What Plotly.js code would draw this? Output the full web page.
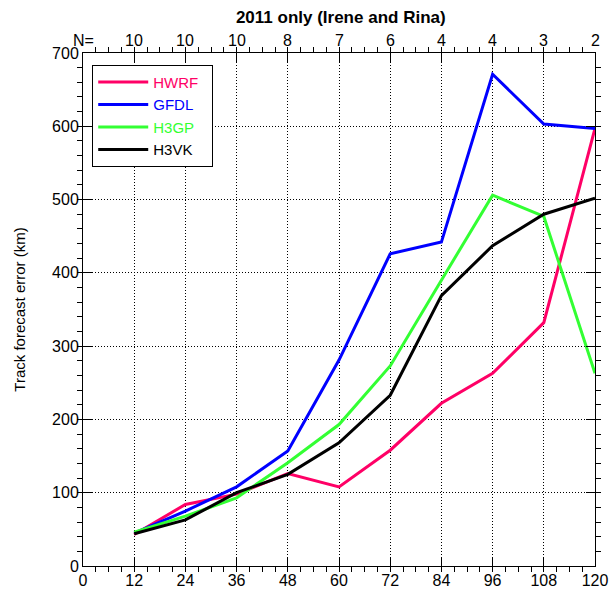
<!DOCTYPE html>
<html><head><meta charset="utf-8">
<script src="https://cdn.plot.ly/plotly-3.0.1.min.js"></script>
<style>body{margin:0;padding:0;background:#fff}#chart{width:614px;height:594px}</style>
</head><body><div id="chart"></div>
<script>
const leadTimes = [12, 24, 36, 48, 60, 72, 84, 96, 108, 120];
const hwrf = [43, 84, 98, 126, 108, 158, 222, 263, 332, 597];
const gfdl = [45, 75, 108, 157, 281, 426, 442, 671, 603, 597];
const h3gp = [46, 68, 93, 141, 193, 273, 390, 506, 477, 263];
const h3vk = [44, 63, 100, 125, 168, 233, 369, 437, 480, 502];
const sampleTicks = [0, 12, 24, 36, 48, 60, 72, 84, 96, 108, 120];
const sampleLabels = ['N=', '10', '10', '10', '8', '7', '6', '4', '4', '3', '2'];
const xTicks = [0, 12, 24, 36, 48, 60, 72, 84, 96, 108, 120];
const yTicks = [0, 100, 200, 300, 400, 500, 600, 700];

const seriesNames = ['HWRF', 'GFDL', 'H3GP', 'H3VK'];
const seriesData = [hwrf, gfdl, h3gp, h3vk];
const seriesColors = ['#ff0066', '#0000ff', '#33ff33', '#000000'];

const FONT = 'Liberation Sans, Arial, sans-serif';
const traces = seriesNames.map((n, i) => ({
  x: leadTimes, y: seriesData[i], type: 'scatter', mode: 'lines',
  name: '<span style="color:' + seriesColors[i] + '">' + n + '</span>\u00a0\u00a0',
  line: {color: seriesColors[i], width: 3}
}));

const annotations = sampleTicks.map((t, i) => ({
  x: t, y: 1, xref: 'x', yref: 'paper', text: sampleLabels[i],
  showarrow: false, yanchor: 'bottom', yshift: 2,
  font: {family: FONT, size: 16, color: '#000'}
}));

const axisCommon = {
  showline: true, linecolor: '#000', linewidth: 1, mirror: 'allticks',
  ticks: 'inside', ticklen: 9, tickcolor: '#000', tickwidth: 1,
  showgrid: true, gridcolor: '#000', griddash: '1px,2px', gridwidth: 1,
  zeroline: false, tickfont: {family: FONT, size: 16, color: '#000'}
};

const layout = {
  width: 614, height: 594,
  margin: {l: 83, r: 19, t: 53, b: 28},
  paper_bgcolor: '#fff', plot_bgcolor: '#fff',
  showlegend: true,
  title: {text: '<b>2011 only (Irene and Rina)</b>', x: 0.555, xanchor: 'center', y: 0.972, yanchor: 'middle',
          font: {family: FONT, size: 17, color: '#000'}},
  xaxis: Object.assign({}, axisCommon, {
    range: [0, 120], tickvals: xTicks, ticktext: xTicks.map(String),
    minor: {dtick: 3, ticklen: 5, tickcolor: '#000', showgrid: false}
  }),
  yaxis: Object.assign({}, axisCommon, {
    range: [0, 700], tickvals: yTicks, ticktext: yTicks.map(String),
    minor: {dtick: 20, ticklen: 5, tickcolor: '#000', showgrid: false},
    title: {text: 'Track forecast error (km)', standoff: 22, font: {family: FONT, size: 15, color: '#000'}}
  }),
  legend: {x: 0.018, y: 0.977, xanchor: 'left', yanchor: 'top', bgcolor: '#fff', itemwidth: 50,
           bordercolor: '#000', borderwidth: 1, font: {family: FONT, size: 15, color: '#000'}},
  annotations: annotations
};

Plotly.newPlot('chart', traces, layout, {displayModeBar: false, staticPlot: true});
</script></body></html>
